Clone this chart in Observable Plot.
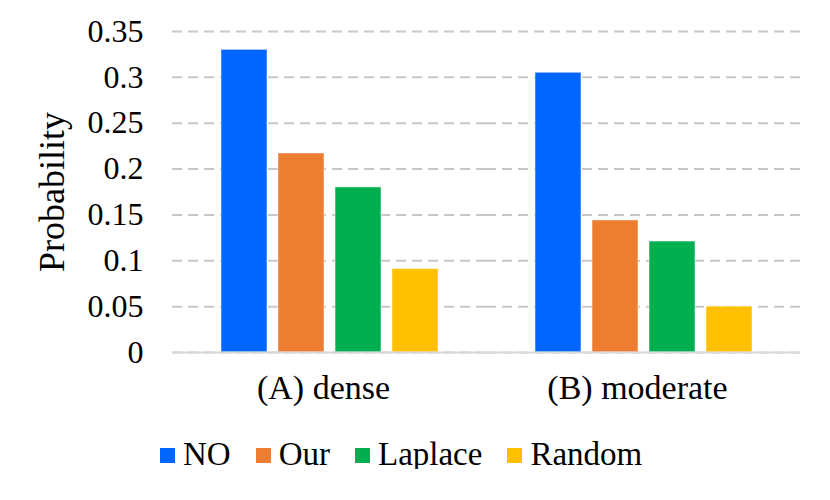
<!DOCTYPE html>
<html>
<head>
<meta charset="utf-8">
<script src="https://cdn.jsdelivr.net/npm/d3@7"></script>
<script src="https://cdn.jsdelivr.net/npm/@observablehq/plot@0.6"></script>
<style>
  html, body { margin: 0; padding: 0; background: #fff; }
  #chart { width: 830px; }
  .legend { display: flex; align-items: flex-end; margin-left: 160px; margin-top: 14px; font-family: "Liberation Serif", serif; font-size: 33px; line-height: 30px; color: #000; }
  .legend .item { display: flex; align-items: flex-end; margin-right: 25px; }
  .legend .sw { width: 15px; height: 15px; margin-right: 8px; margin-bottom: 6px; }
</style>
</head>
<body>
<div id="chart"></div>
<script>
const groups = ["(A) dense", "(B) moderate"];
const methods = ["NO", "Our", "Laplace", "Random"];
const denseValues = [0.33, 0.217, 0.18, 0.091];
const moderateValues = [0.305, 0.144, 0.121, 0.05];
const colors = ["#0066FF", "#ED7D31", "#00B050", "#FFC000"];
const yTicks = [0, 0.05, 0.1, 0.15, 0.2, 0.25, 0.3, 0.35];
const yTickLabels = ["0", "0.05", "0.1", "0.15", "0.2", "0.25", "0.3", "0.35"];

const data = [];
methods.forEach((m, i) => data.push({group: groups[0], method: m, value: denseValues[i]}));
methods.forEach((m, i) => data.push({group: groups[1], method: m, value: moderateValues[i]}));

const chart = Plot.plot({
  width: 830,
  height: 425,
  marginTop: 31,
  marginBottom: 73,
  marginLeft: 172,
  marginRight: 30,
  style: {fontFamily: "Liberation Serif", fontSize: "32px", color: "#000", background: "#fff"},
  fx: {domain: groups, padding: 0, label: null},
  x: {domain: methods, paddingInner: 0.2, paddingOuter: 0.84, axis: null},
  y: {domain: [0, 0.35], label: null},
  color: {domain: methods, range: colors},
  marks: [
    Plot.gridY(yTicks, {stroke: "#c8c8c8", strokeOpacity: 1, strokeWidth: 2, strokeDasharray: "10,6"}),
    Plot.barY(data, {fx: "group", x: "method", y: "value", fill: "method", stroke: "#ffffff", strokeWidth: 1, strokeOpacity: 0.5}),
    Plot.ruleY([0], {stroke: "#d9d9d9", strokeWidth: 2}),
    Plot.axisY(yTicks, {
      anchor: "left", tickSize: 0, tickPadding: 29, fontSize: 32,
      tickFormat: d => yTickLabels[yTicks.indexOf(d)],
      label: null
    }),
    Plot.axisY({
      anchor: "left", ticks: [], tickSize: 0, fontSize: 36,
      label: "Probability", labelAnchor: "center", labelArrow: "none", labelOffset: 134
    }),
    Plot.axisFx({anchor: "bottom", tickSize: 0, tickPadding: 22, fontSize: 34, dx: -6, label: null})
  ]
});
document.getElementById("chart").appendChild(chart);

const legend = document.createElement("div");
legend.className = "legend";
methods.forEach((m, i) => {
  const item = document.createElement("div");
  item.className = "item";
  const sw = document.createElement("span");
  sw.className = "sw";
  sw.style.background = colors[i];
  const t = document.createElement("span");
  t.textContent = m;
  item.appendChild(sw);
  item.appendChild(t);
  legend.appendChild(item);
});
document.body.appendChild(legend);
</script>
</body>
</html>
